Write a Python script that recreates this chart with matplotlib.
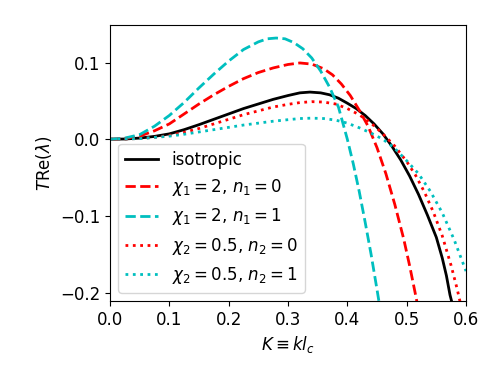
import numpy as np
import matplotlib
matplotlib.use("Agg")
import matplotlib.pyplot as plt

plt.rcParams["font.size"] = 12

# --------------------------------------------
# Curves (K, T Re(lambda))
# --------------------------------------------
k_iso = [0, 0.025, 0.05, 0.075, 0.1, 0.125, 0.15, 0.175, 0.2, 0.225, 0.25, 0.275,
         0.3, 0.32, 0.337, 0.355, 0.37, 0.385, 0.4, 0.415, 0.43, 0.445, 0.46,
         0.475, 0.49, 0.505, 0.52, 0.535, 0.55, 0.56, 0.567, 0.573, 0.577]
v_iso = [0, 0.0003, 0.0015, 0.0037, 0.007, 0.0125, 0.019, 0.026, 0.033, 0.040,
         0.046, 0.052, 0.057, 0.0605, 0.0615, 0.0605, 0.058, 0.0535, 0.047, 0.040,
         0.031, 0.020, 0.007, -0.009, -0.027, -0.048, -0.072, -0.099, -0.128,
         -0.155, -0.178, -0.203, -0.215]

k_c1n0 = [0, 0.025, 0.05, 0.075, 0.1, 0.125, 0.15, 0.175, 0.2, 0.225, 0.25, 0.275,
          0.3, 0.32, 0.34, 0.36, 0.375, 0.39, 0.405, 0.42, 0.435, 0.45, 0.465,
          0.48, 0.495, 0.505, 0.515, 0.518]
v_c1n0 = [0, 0.001, 0.004, 0.011, 0.02, 0.033, 0.046, 0.058, 0.069, 0.079, 0.087,
          0.093, 0.0975, 0.0995, 0.098, 0.092, 0.084, 0.072, 0.057, 0.038, 0.017,
          -0.011, -0.045, -0.085, -0.13, -0.165, -0.203, -0.215]

k_c1n1 = [0, 0.025, 0.05, 0.075, 0.1, 0.125, 0.15, 0.175, 0.2, 0.225, 0.25, 0.265,
          0.28, 0.295, 0.31, 0.325, 0.34, 0.355, 0.37, 0.385, 0.39, 0.4, 0.41,
          0.42, 0.43, 0.44, 0.45, 0.454]
v_c1n1 = [0, 0.0015, 0.006, 0.017, 0.031, 0.048, 0.067, 0.085, 0.102, 0.117, 0.127,
          0.131, 0.132, 0.131, 0.126, 0.118, 0.106, 0.089, 0.068, 0.042, 0.028,
          0.0, -0.032, -0.068, -0.108, -0.15, -0.196, -0.215]

k_c2n0 = [0, 0.025, 0.05, 0.075, 0.1, 0.125, 0.15, 0.175, 0.2, 0.225, 0.25, 0.275,
          0.3, 0.32, 0.34, 0.36, 0.38, 0.4, 0.42, 0.44, 0.46, 0.48, 0.5, 0.515,
          0.53, 0.545, 0.56, 0.575, 0.585, 0.59]
v_c2n0 = [0, 0.0002, 0.001, 0.0025, 0.005, 0.009, 0.014, 0.020, 0.026, 0.032,
          0.037, 0.042, 0.0455, 0.0478, 0.049, 0.0485, 0.046, 0.040, 0.032, 0.021,
          0.007, -0.009, -0.029, -0.047, -0.069, -0.095, -0.126, -0.165, -0.195,
          -0.212]

k_c2n1 = [0, 0.05, 0.1, 0.125, 0.15, 0.175, 0.2, 0.225, 0.25, 0.275, 0.3, 0.32,
          0.34, 0.36, 0.38, 0.4, 0.42, 0.44, 0.46, 0.48, 0.5, 0.52, 0.54, 0.56,
          0.58, 0.6]
v_c2n1 = [0, 0.0008, 0.004, 0.0065, 0.0095, 0.0125, 0.0155, 0.0185, 0.021, 0.0235,
          0.0255, 0.027, 0.0275, 0.027, 0.025, 0.021, 0.015, 0.008, 0.0, -0.012,
          -0.028, -0.045, -0.068, -0.096, -0.131, -0.172]

fig = plt.figure(figsize=(4.98, 3.74), dpi=100)
ax = fig.add_axes([110 / 498, 73 / 374, 356 / 498, 276 / 374])

ax.plot(k_iso, v_iso, color="k", lw=2, label="isotropic")
ax.plot(k_c1n0, v_c1n0, color="r", ls="--", lw=2, label=r"$\chi_1 = 2$, $n_1 = 0$")
ax.plot(k_c1n1, v_c1n1, color="c", ls="--", lw=2, label=r"$\chi_1 = 2$, $n_1 = 1$")
ax.plot(k_c2n0, v_c2n0, color="r", ls=":", lw=2, label=r"$\chi_2 = 0.5$, $n_2 = 0$")
ax.plot(k_c2n1, v_c2n1, color="c", ls=":", lw=2, label=r"$\chi_2 = 0.5$, $n_2 = 1$")

ax.set_xlim(0, 0.6)
ax.set_ylim(-0.211, 0.149)
ax.set_xticks([0.0, 0.1, 0.2, 0.3, 0.4, 0.5, 0.6])
ax.set_yticks([-0.2, -0.1, 0.0, 0.1])
ax.set_xlabel(r"$K \equiv kl_c$")
ax.set_ylabel(r"$T\mathrm{Re}(\lambda)$")
ax.legend(loc="lower left")

fig.savefig("out.png", dpi=100)
